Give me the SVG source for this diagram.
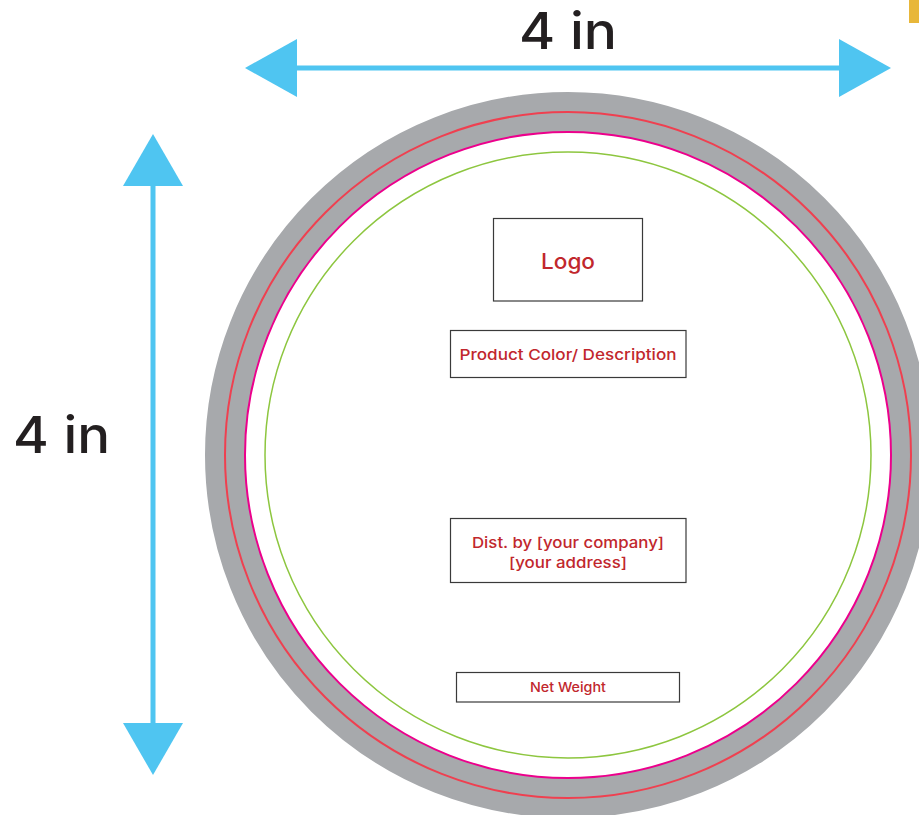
<svg xmlns="http://www.w3.org/2000/svg" width="919" height="815" viewBox="0 0 919 815">
<style>
.dim{font-family:Inter,"Liberation Sans",sans-serif;font-weight:500;fill:#231f20;font-size:51px;text-anchor:middle}
.lbl{font-family:Inter,"Liberation Sans",sans-serif;font-weight:500;fill:#c1272d;text-anchor:middle}
.box{fill:#ffffff;stroke:#3a3a3a;stroke-width:1.2}
.arrow{fill:#4fc5f1}
</style>
<rect width="919" height="815" fill="#ffffff"/>
<rect x="909" y="0" width="10" height="23" fill="#e8b73a"/>
<g id="label-circle">
<circle cx="568" cy="455" r="343" fill="none" stroke="#a7a9ac" stroke-width="40"/>
<circle cx="568" cy="455" r="343" fill="none" stroke="#ef4050" stroke-width="2"/>
<circle cx="568" cy="455" r="323" fill="#ffffff" stroke="#ec008c" stroke-width="2"/>
<circle cx="568" cy="455" r="303" fill="none" stroke="#8dc63f" stroke-width="1.5"/>
</g>
<g id="connectors">
<g id="width-arrow">
<rect x="290" y="65.5" width="556" height="5" class="arrow"/>
<polygon points="245,68 297,39 297,97" class="arrow"/>
<polygon points="891,68 839,39 839,97" class="arrow"/>
</g>
<g id="height-arrow">
<rect x="150.5" y="180" width="5" height="550" class="arrow"/>
<polygon points="153,134 123,186 183,186" class="arrow"/>
<polygon points="153,775 123,723 183,723" class="arrow"/>
</g>
</g>
<g id="width-label"><text class="dim" x="568" y="49" textLength="98" lengthAdjust="spacingAndGlyphs">4 in</text></g>
<g id="height-label"><text class="dim" x="61.5" y="453" textLength="97" lengthAdjust="spacingAndGlyphs">4 in</text></g>
<g id="logo">
<rect class="box" x="493.5" y="218.5" width="149" height="82.5"/>
<text class="lbl" x="568" y="269" font-size="21" textLength="54" lengthAdjust="spacingAndGlyphs">Logo</text>
</g>
<g id="product">
<rect class="box" x="450.5" y="330.5" width="235.5" height="47"/>
<text class="lbl" x="568" y="360" font-size="15" textLength="217" lengthAdjust="spacingAndGlyphs">Product Color/ Description</text>
</g>
<g id="distributor">
<rect class="box" x="450.5" y="518.5" width="235.5" height="64"/>
<text class="lbl" x="568" y="547.5" font-size="15" textLength="192" lengthAdjust="spacingAndGlyphs">Dist. by [your company]</text>
<text class="lbl" x="568" y="567.5" font-size="15" textLength="118" lengthAdjust="spacingAndGlyphs">[your address]</text>
</g>
<g id="net-weight">
<rect class="box" x="456.5" y="672.5" width="223" height="29.5"/>
<text class="lbl" x="568" y="692" font-size="13" textLength="76" lengthAdjust="spacingAndGlyphs">Net Weight</text>
</g>
</svg>
